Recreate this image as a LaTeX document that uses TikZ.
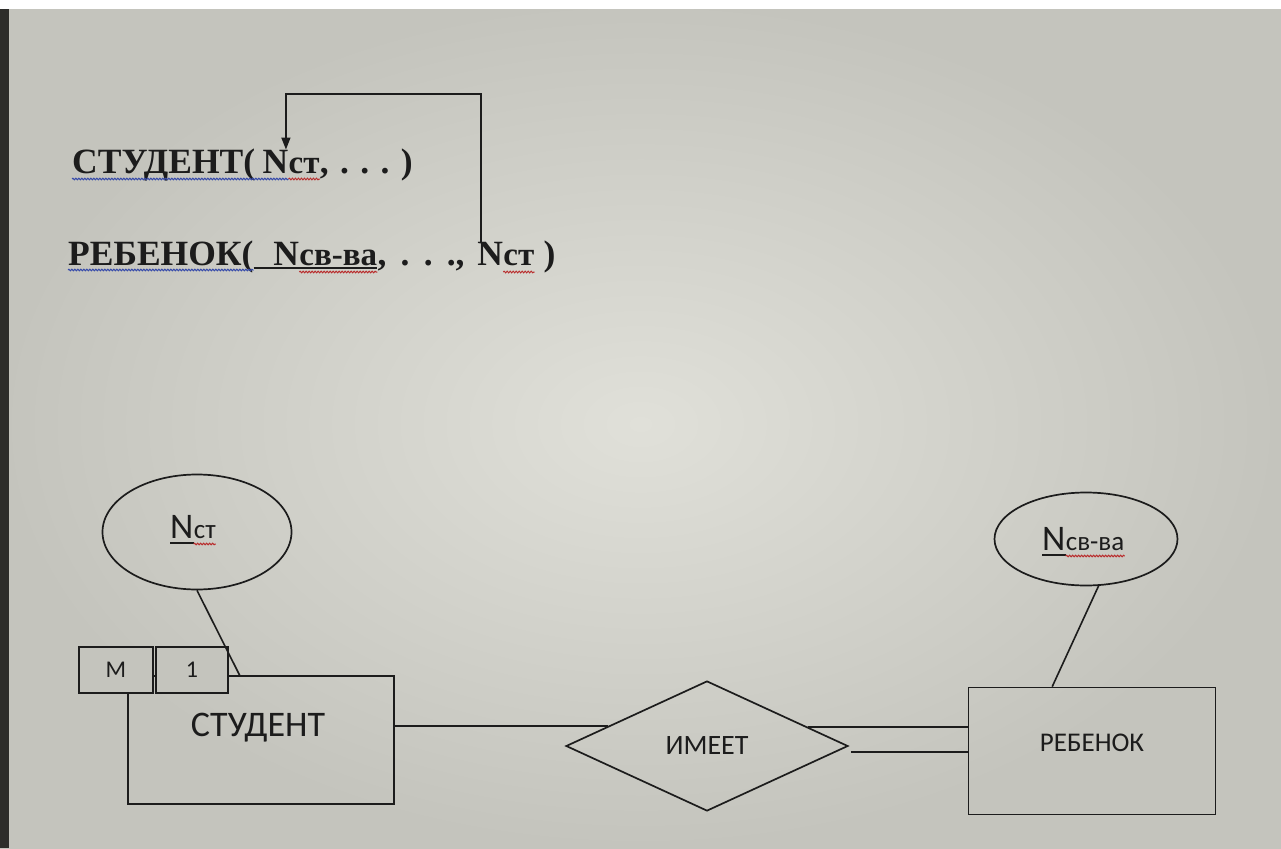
\documentclass[tikz,border=0pt]{standalone}
\usepackage{fontspec}
\setmainfont{Liberation Serif}
\newfontfamily\calibrifont{Carlito}
\usetikzlibrary{shapes.geometric,arrows.meta,calc,decorations.pathmorphing}
\definecolor{erbg}{RGB}{196,196,189}
\definecolor{erbglight}{RGB}{224,224,217}
\definecolor{eredge}{RGB}{45,45,42}
\definecolor{erline}{RGB}{28,28,28}
\definecolor{erblue}{RGB}{55,75,170}
\definecolor{erred}{RGB}{185,45,45}
\begin{document}
\begin{tikzpicture}[yscale=-1
                ,reltext/.style={inner sep=0pt,anchor=base west,text=erline,font=\bfseries\fontsize{35.5}{38}\selectfont}
                ,relsub/.style={inner sep=0pt,anchor=base west,text=erline,font=\bfseries\fontsize{33}{35}\selectfont}
                ,attrtext/.style={inner sep=0pt,anchor=base west,text=erline,font=\calibrifont\fontsize{36}{38}\selectfont}
                ,attrsub/.style={inner sep=0pt,anchor=base west,text=erline,font=\calibrifont\fontsize{27}{29}\selectfont}
                ,entity/.style={draw=erline,line width=1.7pt,rectangle,inner sep=0pt}
                ,attr/.style={draw=erline,line width=1.7pt,ellipse,inner sep=0pt}
                ,rel/.style={draw=erline,line width=1.7pt,diamond,inner sep=0pt,text=erline,font=\calibrifont\fontsize{28}{30}\selectfont}
                ,card/.style={draw=erline,line width=1.7pt,rectangle,fill=erbg,inner sep=0pt,text=erline,font=\calibrifont\fontsize{24}{26}\selectfont}
                ,link/.style={color=erline,line width=1.6pt}
                ,keyline/.style={color=erline,line width=1.3pt}
                ,bluewave/.style={color=erblue,line width=1pt,decorate,decoration={snake,amplitude=0.8pt,segment length=3pt}}
                ,redwave/.style={color=erred,line width=1pt,decorate,decoration={snake,amplitude=0.8pt,segment length=3pt}}
                ,fk/.style={color=erline,line width=1.6pt,-{Triangle[length=12pt,width=9pt]}}
            ]
            \shade[inner color=erbglight,outer color=erbg] (0pt,0pt) rectangle (1281pt,848pt);
            \fill[white] (0pt,0pt) rectangle (1281pt,9pt);
            \fill[eredge] (0pt,9pt) rectangle (9pt,848pt);
            \node[reltext] (stud) at (72pt,173pt) {СТУДЕНТ(\kern0.2em};
            \node[reltext] (nst1) at (stud.base east) {N};
            \node[relsub] (nst1s) at (nst1.base east) {ст};
            \node[reltext] (rest1) at (nst1s.base east) {,\kern0.32em.\kern0.32em.\kern0.32em.\kern0.32em)};
            \node[reltext] (reb) at (68pt,265pt) {РЕБЕНОК(};
            \node[reltext] (nsv1) at (reb.base east) {\kern0.55em N};
            \node[relsub] (nsv1s) at (nsv1.base east) {св-ва};
            \node[reltext] (rest2) at (nsv1s.base east) {,\kern0.4em.\kern0.4em.\kern0.4em.,\kern0.35em};
            \node[reltext] (nst2) at (rest2.base east) {N};
            \node[relsub] (nst2s) at (nst2.base east) {ст};
            \node[reltext] (end2) at (nst2s.base east) {\ )};
            \draw[bluewave] ($(stud.base west)+(0pt,6pt)$) -- ($(nst1.base east)+(0pt,6pt)$);
            \draw[redwave] ($(nst1s.base west)+(0pt,6pt)$) -- ($(nst1s.base east)+(0pt,6pt)$);
            \draw[bluewave] ($(reb.base west)+(0pt,5pt)$) -- ($(nsv1.base west)+(0pt,5pt)$);
            \draw[keyline] ($(nsv1.base west)+(0pt,3pt)$) -- ($(nsv1s.base east)+(0pt,3pt)$);
            \draw[redwave] ($(nsv1s.base west)+(0pt,7pt)$) -- ($(nsv1s.base east)+(0pt,7pt)$);
            \draw[redwave] ($(nst2s.base west)+(0pt,7pt)$) -- ($(nst2s.base east)+(0pt,7pt)$);
            \coordinate (fkrail) at (0pt,94pt);
            \coordinate (fkin) at ($(nst1.north west)!0.9!(nst1.north east)$);
            \coordinate (fkout) at ($(nst2.north west)!0.15!(nst2.north east)$);
            \draw[fk] (fkout) |- (fkrail -| fkin) -- (fkin);
            \node[attr,minimum width=189pt,minimum height=115pt] (nstattr) at (197pt,532pt) {};
            \node[attrtext] (nstN) at (170pt,538pt) {N};
            \node[attrsub] (nstS) at (nstN.base east) {ст};
            \draw[keyline] ($(nstN.base west)+(0pt,5pt)$) -- ($(nstN.base east)+(0pt,5pt)$);
            \draw[redwave] ($(nstS.base west)+(0pt,6pt)$) -- ($(nstS.base east)+(0pt,6pt)$);
            \node[attr,minimum width=183pt,minimum height=93pt] (nsvattr) at (1086pt,539pt) {};
            \node[attrtext] (nsvN) at (1042pt,550pt) {N};
            \node[attrsub] (nsvS) at (nsvN.base east) {св-ва};
            \draw[keyline] ($(nsvN.base west)+(0pt,5pt)$) -- ($(nsvN.base east)+(0pt,5pt)$);
            \draw[redwave] ($(nsvS.base west)+(0pt,6pt)$) -- ($(nsvS.base east)+(0pt,6pt)$);
            \node[entity,minimum width=266pt,minimum height=128pt] (student) at (261pt,740pt) {};
            \node[inner sep=0pt,text=erline,font=\calibrifont\fontsize{36}{38}\selectfont] (studentlbl) at (258pt,728pt) {СТУДЕНТ};
            \node[card,minimum width=74pt,minimum height=46pt] (cardm) at (116pt,670pt) {М};
            \node[card,minimum width=72pt,minimum height=46pt] (card1) at (192pt,670pt) {1};
            \draw[link] (nstattr.south) -- ($(student.north west)!0.42!(student.north east)$);
            \node[rel,minimum width=282pt,minimum height=130pt] (imeet) at (707pt,746pt) {ИМЕЕТ};
            \node[entity,minimum width=247pt,minimum height=127pt,text=erline,text depth=16pt,font=\calibrifont\fontsize{27}{29}\selectfont] (rebenok) at (1092pt,751pt) {РЕБЕНОК};
            \draw[link] (nsvattr.285) -- ($(rebenok.north west)!0.34!(rebenok.north east)$);
            \coordinate (imeetw) at ($(imeet.west)!0.3!(imeet.north)$);
            \coordinate (imeetu) at ($(imeet.north)!0.71!(imeet.east)$);
            \coordinate (imeetl) at ($(imeet.east)+(2pt,6pt)$);
            \draw[link] (imeetw -| student.east) -- (imeetw);
            \draw[link] (imeetu) -- (imeetu -| rebenok.west);
            \draw[link] (imeetl) -- (imeetl -| rebenok.west);
        \end{tikzpicture}
\end{document}
